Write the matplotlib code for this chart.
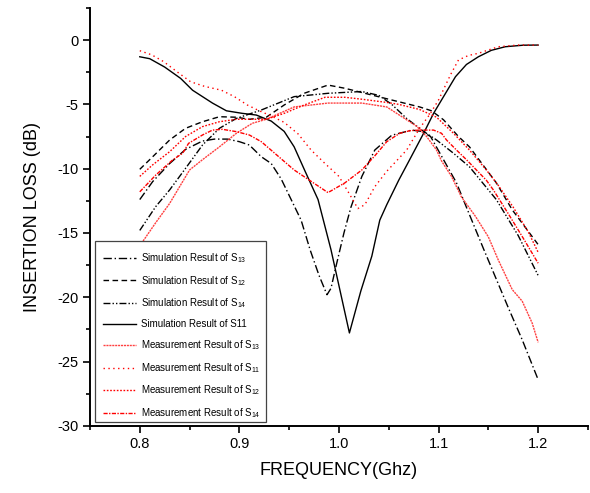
import matplotlib
matplotlib.use("Agg")
import matplotlib.pyplot as plt
from matplotlib.patches import Rectangle
from matplotlib.ticker import MultipleLocator, FormatStrFormatter

plt.rcParams['font.family'] = ['Liberation Sans', 'DejaVu Sans']

# ---- data ----
sim_s11_x = [0.80, 0.81, 0.825, 0.841, 0.853, 0.873, 0.887, 0.903, 0.917, 0.932, 0.945, 0.955,
             0.966, 0.979, 0.992, 1.0105, 1.022, 1.033, 1.041, 1.048, 1.06, 1.071, 1.085,
             1.095, 1.103, 1.117, 1.128, 1.14, 1.153, 1.167, 1.185, 1.2]
sim_s11_y = [-1.3, -1.45, -2.1, -2.98, -3.9, -4.9, -5.5, -5.7, -5.83, -6.3, -7.1, -8.3,
             -10.2, -12.4, -16.3, -22.77, -19.5, -16.8, -14.0, -12.8, -10.9, -9.3, -7.25,
             -5.7, -4.66, -2.85, -1.9, -1.3, -0.8, -0.52, -0.4, -0.39]

meas_s11_x = [0.80, 0.812, 0.824, 0.838, 0.851, 0.865, 0.882, 0.895, 0.908, 0.92, 0.932, 0.945,
              0.959, 0.972, 0.986, 1.0, 1.01, 1.019, 1.026, 1.036, 1.048, 1.068, 1.081, 1.091,
              1.1, 1.112, 1.12, 1.13, 1.14, 1.16, 1.18, 1.2]
meas_s11_y = [-0.83, -1.15, -1.68, -2.5, -3.24, -3.6, -3.9, -4.4, -5.05, -5.5, -5.9, -6.4,
              -7.3, -8.55, -9.6, -10.6, -11.9, -13.1, -12.8, -11.4, -10.2, -8.55, -6.86, -5.8,
              -4.66, -2.7, -1.55, -1.2, -1.03, -0.52, -0.39, -0.39]

sim_s12_x = [0.80, 0.813, 0.83, 0.846, 0.863, 0.88, 0.897, 0.91, 0.927, 0.945, 0.965, 0.989,
             1.006, 1.026, 1.053, 1.081, 1.093, 1.105, 1.12, 1.131, 1.158, 1.174, 1.2]
sim_s12_y = [-10.05, -9.07, -7.77, -6.86, -6.35, -5.96, -6.0, -6.16, -6.0, -5.05, -4.14, -3.5,
             -3.75, -4.14, -4.66, -5.2, -5.5, -6.2, -7.5, -8.3, -11.1, -13.2, -15.9]

sim_s13_x = [0.80, 0.813, 0.83, 0.846, 0.863, 0.875, 0.888, 0.90, 0.91, 0.922, 0.932, 0.942,
             0.952, 0.962, 0.971, 0.98, 0.988, 0.992, 0.997, 1.005, 1.012, 1.023, 1.036,
             1.053, 1.073, 1.083, 1.092, 1.105, 1.118, 1.128, 1.145, 1.17, 1.184, 1.2]
sim_s13_y = [-12.4, -11.0, -9.6, -8.5, -7.85, -7.7, -7.7, -7.9, -8.16, -9.07, -9.6, -10.8,
             -12.4, -14.0, -16.3, -18.3, -19.8, -19.3, -17.6, -15.0, -13.0, -10.6, -8.55,
             -7.4, -7.0, -7.1, -7.5, -9.3, -11.1, -13.0, -16.2, -20.8, -23.3, -26.4]

sim_s14_x = [0.80, 0.816, 0.83, 0.846, 0.863, 0.88, 0.897, 0.922, 0.955, 0.989, 1.023, 1.04,
             1.053, 1.068, 1.085, 1.098, 1.115, 1.131, 1.158, 1.18, 1.2]
sim_s14_y = [-14.8, -12.95, -11.65, -9.97, -8.16, -6.86, -6.09, -5.44, -4.4, -4.14, -4.0, -4.3,
             -5.0, -6.1, -7.1, -7.77, -8.8, -9.85, -12.4, -15.2, -18.3]

meas_s13_x = [0.80, 0.816, 0.83, 0.84, 0.85, 0.863, 0.88, 0.897, 0.913, 0.927, 0.955, 0.989,
              1.023, 1.048, 1.058, 1.068, 1.078, 1.088, 1.098, 1.103, 1.113, 1.123, 1.137,
              1.15, 1.16, 1.174, 1.184, 1.194, 1.2]
meas_s13_y = [-16.0, -14.2, -12.7, -11.4, -10.1, -9.3, -8.3, -7.25, -6.47, -6.16, -5.2, -4.9,
              -4.9, -5.2, -5.7, -6.2, -6.7, -7.5, -8.55, -9.4, -10.6, -12.2, -13.7,
              -15.3, -17.1, -19.4, -20.3, -22.0, -23.5]

meas_s12_x = [0.80, 0.813, 0.83, 0.846, 0.863, 0.88, 0.897, 0.927, 0.945, 0.965, 0.986, 1.006,
              1.023, 1.048, 1.06, 1.081, 1.098, 1.115, 1.131, 1.148, 1.16, 1.175, 1.19, 1.2]
meas_s12_y = [-10.6, -9.7, -8.68, -7.5, -6.73, -6.35, -6.16, -6.16, -5.7, -5.05, -4.45, -4.45,
              -4.6, -4.85, -5.0, -5.4, -6.0, -7.25, -8.55, -10.1, -11.3, -13.0, -14.9, -16.5]

meas_s14_x = [0.80, 0.816, 0.833, 0.843, 0.849, 0.863, 0.873, 0.883, 0.897, 0.91, 0.922, 0.955,
              0.989, 1.006, 1.023, 1.036, 1.048, 1.061, 1.071, 1.081, 1.095, 1.103, 1.108,
              1.118, 1.128, 1.138, 1.148, 1.155, 1.17, 1.185, 1.2]
meas_s14_y = [-11.8, -10.5, -9.32, -8.8, -8.03, -7.38, -7.0, -6.94, -7.12, -7.38, -7.9, -10.1,
              -11.86, -11.1, -10.1, -9.0, -7.9, -7.25, -7.05, -7.0, -7.0, -7.25, -7.77,
              -8.55, -9.3, -10.1, -10.9, -11.65, -13.5, -15.4, -17.35]

labels = [
    'Simulation Result of S$_{\\mathregular{13}}$',
    'Simulation Result of S$_{\\mathregular{12}}$',
    'Simulation Result of S$_{\\mathregular{14}}$',
    'Simulation Result of S11',
    'Measurement Result of S$_{\\mathregular{13}}$',
    'Measurement Result of S$_{\\mathregular{11}}$',
    'Measurement Result of S$_{\\mathregular{12}}$',
    'Measurement Result of S$_{\\mathregular{14}}$',
]

fig = plt.figure(figsize=(5.90, 4.93), dpi=100)
ax = fig.add_axes([0.1525, 0.136, 0.844, 0.848])

lw = 1.0
ax.plot(sim_s13_x, sim_s13_y, color='black', lw=lw, ls=(0, (6, 2, 1, 2)), label=labels[0])
ax.plot(sim_s12_x, sim_s12_y, color='black', lw=lw, ls=(0, (4, 2.5)), label=labels[1])
ax.plot(sim_s14_x, sim_s14_y, color='black', lw=lw, ls=(0, (5, 1.5, 1, 1.5, 1, 1.5)), label=labels[2])
ax.plot(sim_s11_x, sim_s11_y, color='black', lw=lw, ls='-', label=labels[3])
ax.plot(meas_s13_x, meas_s13_y, color='#ff4040', lw=lw, ls=(0, (1.5, 0.6)), label=labels[4])
ax.plot(meas_s11_x, meas_s11_y, color='#ff0000', lw=lw, ls=(0, (1, 2.5)), label=labels[5])
ax.plot(meas_s12_x, meas_s12_y, color='#ff0000', lw=lw, ls=(0, (1.2, 1.2)), label=labels[6])
ax.plot(meas_s14_x, meas_s14_y, color='#ff0000', lw=lw, ls=(0, (3, 1, 1, 1)), label=labels[7])

ax.set_xlim(0.75, 1.25)
ax.set_ylim(-30, 2.5)
ax.xaxis.set_major_locator(MultipleLocator(0.1))
ax.xaxis.set_minor_locator(MultipleLocator(0.05))
ax.yaxis.set_major_locator(MultipleLocator(5))
ax.yaxis.set_minor_locator(MultipleLocator(2.5))
ax.xaxis.set_major_formatter(FormatStrFormatter('%.1f'))
ax.yaxis.set_major_formatter(FormatStrFormatter('%d'))

for s in ['top', 'right']:
    ax.spines[s].set_visible(False)
for s in ['left', 'bottom']:
    ax.spines[s].set_linewidth(1.4)

ax.tick_params(axis='both', which='major', direction='out', length=5, width=1.2, labelsize=10.5, pad=3)
ax.tick_params(axis='both', which='minor', direction='out', length=3, width=1.2)

ax.set_xlabel('FREQUENCY(Ghz)', fontsize=13, labelpad=8)
ax.set_ylabel('INSERTION LOSS (dB)', fontsize=13, labelpad=12)

# legend frame drawn as a separate white box, legend entries placed inside it
frame = Rectangle((0.01, 0.0096), 0.3434, 0.433, transform=ax.transAxes,
                  facecolor='white', edgecolor='#444444', linewidth=0.9, zorder=4.9)
ax.add_patch(frame)
leg = ax.legend(loc='lower left', bbox_to_anchor=(0.01, -0.006), borderaxespad=0,
                fontsize=7.0, frameon=False, handlelength=3.4, handletextpad=0.5,
                labelspacing=0.92, borderpad=0.85)
leg.set_zorder(5)

fig.savefig('out.png', dpi=100)
